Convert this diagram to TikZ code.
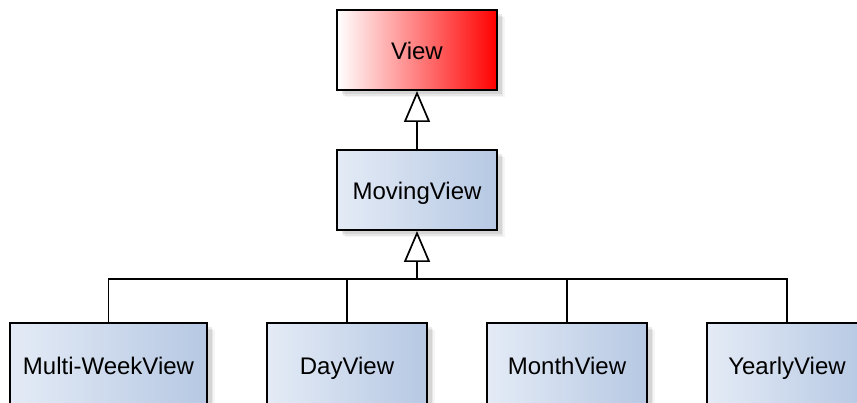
\documentclass[tikz,border=0pt]{standalone}
\usepackage{fontspec}
\setmainfont{Liberation Sans}
\usetikzlibrary{arrows.meta}
\definecolor{paleblue}{RGB}{228,235,246}
\definecolor{steelblue}{RGB}{182,200,227}
\begin{document}
\begin{tikzpicture}[x=1pt,y=-1pt,
  softshadow/.style={
    preaction={fill=black,opacity=0.04,transform canvas={shift={(7.5pt,-7.5pt)}}},
    preaction={fill=black,opacity=0.06,transform canvas={shift={(6pt,-6pt)}}},
    preaction={fill=black,opacity=0.08,transform canvas={shift={(4.5pt,-4.5pt)}}}},
  classbox/.style={softshadow, draw=black, line width=2pt, inner sep=0pt,
    minimum width=160pt, minimum height=80pt,
    text height=20pt, text depth=0pt,
    font=\fontsize{24}{28}\selectfont},
  bluebox/.style={classbox, left color=paleblue, right color=steelblue},
  redbox/.style={classbox, left color=white, right color=red},
  edge/.style={line width=1.7pt, draw=black},
  extends/.style={edge, -{Triangle[length=31pt,width=26pt,fill=white,line width=1.7pt]}}]
\useasboundingbox (0,0) rectangle (857,403);
\clip (0,0) rectangle (857,403);

% class boxes
\node[redbox]  (view)   at (417,50)  {View};
\node[bluebox] (moving) at (417,190) {MovingView};
\node[bluebox, minimum width=197pt, minimum height=82pt] (multi)  at (108.5,364) {Multi-WeekView};
\node[bluebox, minimum height=82pt] (day)    at (347,364) {DayView};
\node[bluebox, minimum height=82pt] (month)  at (567,364) {MonthView};
\node[bluebox, minimum height=82pt] (yearly) at (787,364) {YearlyView};

% generalisation arrows
\draw[extends] (moving.north) -- (view.south);
\coordinate (bus) at (417,279);
\draw[edge] (multi.north) |- (bus);
\draw[edge] (yearly.north) |- (bus);
\draw[edge] (day.north) |- (bus);
\draw[edge] (month.north) |- (bus);
\draw[extends] (bus) -- (moving.south);
\end{tikzpicture}
\end{document}
